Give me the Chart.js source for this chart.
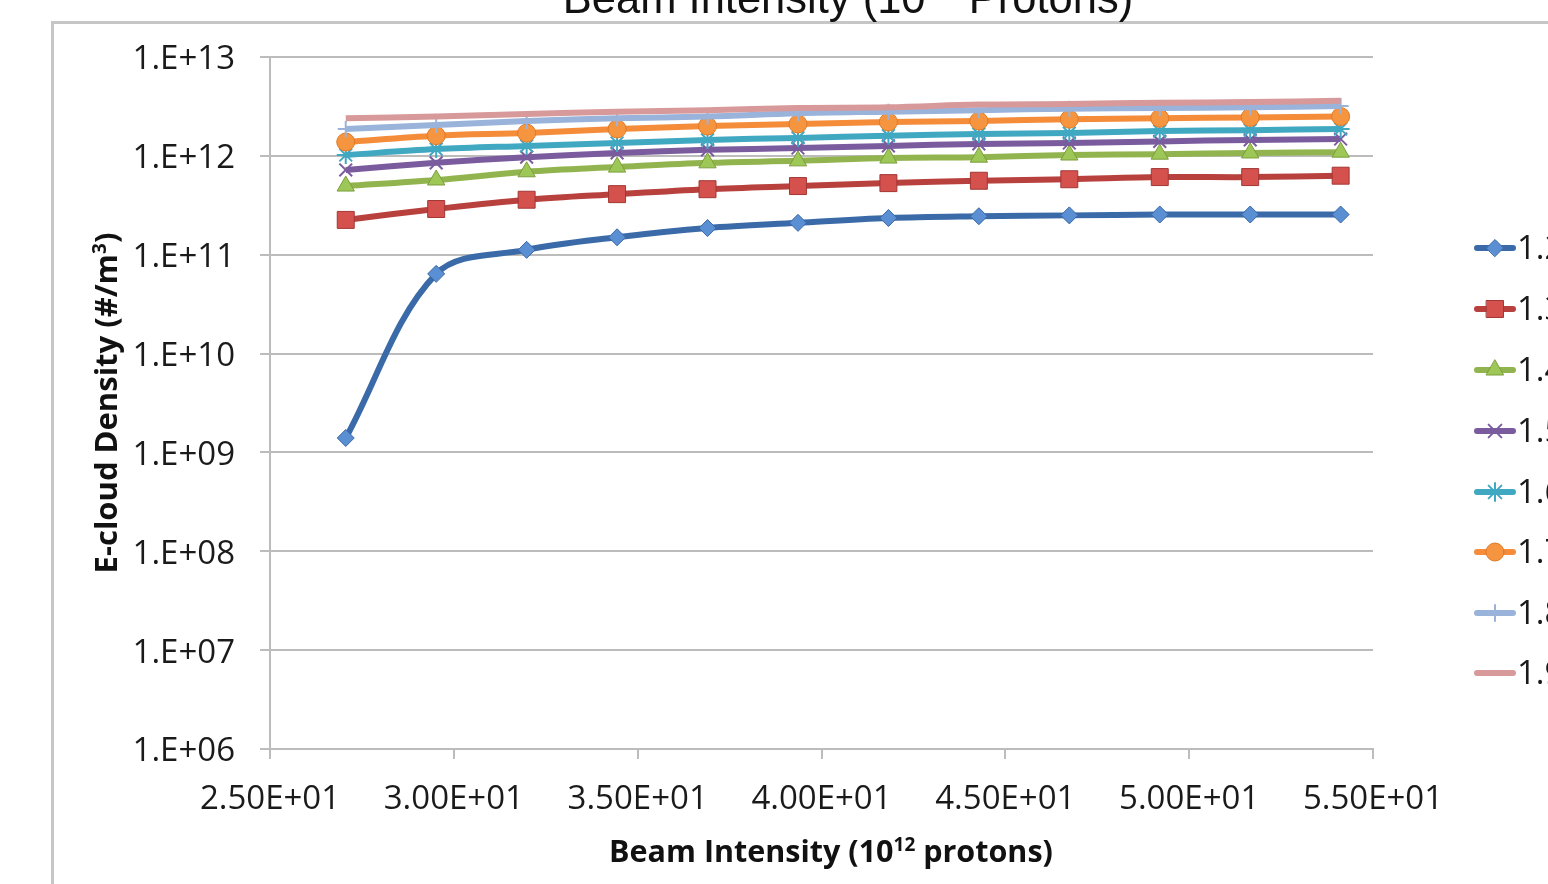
<!DOCTYPE html>
<html>
<head>
<meta charset="utf-8">
<script src="https://cdn.jsdelivr.net/npm/chart.js@4.4.1/dist/chart.umd.min.js"></script>
<style>
  html, body { margin: 0; padding: 0; background: #fff; overflow: hidden; }
  canvas { display: block; }
</style>
</head>
<body>
<canvas id="chart" width="1548" height="884"></canvas>
<script>
// beam intensity (10^12 protons) at each simulated point
const xValues = [27.06, 29.52, 31.98, 34.44, 36.9, 39.36, 41.82, 44.28, 46.74, 49.2, 51.66, 54.12];

// legend labels (SEY)
const seriesLabels = ['1.2', '1.3', '1.4', '1.5', '1.6', '1.7', '1.8', '1.9'];

// e-cloud density, one list per series
const sey12 = [1.4e9, 6.4e10, 1.12e11, 1.5e11, 1.86e11, 2.1e11, 2.35e11, 2.45e11, 2.5e11, 2.55e11, 2.55e11, 2.55e11];
const sey13 = [2.25e11, 2.9e11, 3.6e11, 4.1e11, 4.6e11, 4.95e11, 5.3e11, 5.6e11, 5.8e11, 6.1e11, 6.1e11, 6.3e11];
const sey14 = [4.95e11, 5.7e11, 6.9e11, 7.7e11, 8.5e11, 8.9e11, 9.5e11, 9.7e11, 1.02e12, 1.04e12, 1.07e12, 1.09e12];
const sey15 = [7.2e11, 8.5e11, 9.7e11, 1.07e12, 1.15e12, 1.2e12, 1.26e12, 1.32e12, 1.35e12, 1.4e12, 1.45e12, 1.48e12];
const sey16 = [1.02e12, 1.17e12, 1.26e12, 1.35e12, 1.45e12, 1.52e12, 1.6e12, 1.66e12, 1.7e12, 1.78e12, 1.82e12, 1.87e12];
const sey17 = [1.38e12, 1.6e12, 1.7e12, 1.87e12, 2.0e12, 2.1e12, 2.2e12, 2.25e12, 2.35e12, 2.4e12, 2.45e12, 2.5e12];
const sey18 = [1.87e12, 2.05e12, 2.25e12, 2.4e12, 2.5e12, 2.7e12, 2.8e12, 2.9e12, 3.0e12, 3.05e12, 3.1e12, 3.2e12];
const sey19 = [2.4e12, 2.5e12, 2.65e12, 2.8e12, 2.9e12, 3.05e12, 3.1e12, 3.3e12, 3.35e12, 3.45e12, 3.5e12, 3.6e12];

const yTickValues = [1e6, 1e7, 1e8, 1e9, 1e10, 1e11, 1e12, 1e13];
const yTickLabels = ['1.E+06', '1.E+07', '1.E+08', '1.E+09', '1.E+10', '1.E+11', '1.E+12', '1.E+13'];
const xTickValues = [25, 30, 35, 40, 45, 50, 55];
const xTickLabels = ['2.50E+01', '3.00E+01', '3.50E+01', '4.00E+01', '4.50E+01', '5.00E+01', '5.50E+01'];

const allSeries = [sey12, sey13, sey14, sey15, sey16, sey17, sey18, sey19];

// look of each series (Excel 2008 style)
const styles = [
  { line: '#3b6aa8', fill: '#5b8fd3', border: '#3a69a6', point: 'rectRot', r: 8.5, bw: 1 },
  { line: '#b8403d', fill: '#d4514e', border: '#a23734', point: 'rect', r: 12, bw: 1 },
  { line: '#92b44f', fill: '#9dc857', border: '#7c9d3c', point: 'triangle', r: 10, bw: 1 },
  { line: '#7a5c9e', fill: 'rgba(0,0,0,0)', border: '#7a5c9e', point: 'crossRot', r: 9, bw: 2 },
  { line: '#41a8c2', fill: 'rgba(0,0,0,0)', border: '#41a8c2', point: 'star', r: 9, bw: 2 },
  { line: '#f48c3a', fill: '#f6953f', border: '#e07a25', point: 'circle', r: 9, bw: 1 },
  { line: '#9ab3da', fill: 'rgba(0,0,0,0)', border: '#9ab3da', point: 'cross', r: 8, bw: 2 },
  { line: '#d8999a', fill: '#d8999a', border: '#d8999a', point: 'circle', r: 0, bw: 0 }
];

const datasets = allSeries.map((vals, i) => ({
  label: seriesLabels[i],
  data: vals.map((v, j) => ({ x: xValues[j], y: v })),
  borderColor: styles[i].line,
  borderWidth: 6,
  backgroundColor: styles[i].fill,
  pointStyle: styles[i].point,
  pointRadius: styles[i].r,
  pointHoverRadius: styles[i].r,
  pointBackgroundColor: styles[i].fill,
  pointBorderColor: styles[i].border,
  pointBorderWidth: styles[i].bw,
  tension: 0.35,
  fill: false,
  order: 8 - i
}));

// draw text made of pieces (for superscripts)
function drawRich(ctx, parts, x, y, align) {
  let total = 0;
  parts.forEach(p => { ctx.font = p.font; p.w = ctx.measureText(p.text).width; total += p.w; });
  let cx = align === 'center' ? x - total / 2 : x;
  ctx.textAlign = 'left';
  ctx.textBaseline = 'alphabetic';
  parts.forEach(p => {
    ctx.font = p.font;
    ctx.fillText(p.text, cx, y + (p.dy || 0));
    cx += p.w;
  });
}

const decorPlugin = {
  id: 'decor',
  beforeDraw(chart) {
    const ctx = chart.ctx;
    ctx.save();
    ctx.fillStyle = '#fff';
    ctx.fillRect(0, 0, chart.width, chart.height);
    // chart frame
    ctx.strokeStyle = '#c6c6c6';
    ctx.lineWidth = 3;
    ctx.strokeRect(52.5, 22.5, 2000, 2000);
    // main title, mostly outside the picture
    ctx.fillStyle = '#111';
    drawRich(ctx, [
      { text: 'Beam Intensity (10', font: '43.5px "Liberation Sans"' },
      { text: '12', font: '28px "Liberation Sans"', dy: -16 },
      { text: ' Protons)', font: '43.5px "Liberation Sans"' }
    ], 848, 13, 'center');
    ctx.restore();
  },
  afterDraw(chart) {
    const ctx = chart.ctx;
    ctx.save();
    ctx.fillStyle = '#111';
    // x axis title
    drawRich(ctx, [
      { text: 'Beam Intensity (10', font: 'bold 30.5px "Open Sans"' },
      { text: '12', font: 'bold 19px "Open Sans"', dy: -11 },
      { text: ' protons)', font: 'bold 30.5px "Open Sans"' }
    ], 831, 862, 'center');
    // y axis title
    ctx.translate(117, 403);
    ctx.rotate(-Math.PI / 2);
    drawRich(ctx, [
      { text: 'E-cloud Density (#/m', font: 'bold 31px "Open Sans"' },
      { text: '3', font: 'bold 19px "Open Sans"', dy: -11 },
      { text: ')', font: 'bold 31px "Open Sans"' }
    ], 0, 0, 'center');
    ctx.restore();

    // legend
    ctx.save();
    const legendY = [248, 309, 370, 431, 492, 552, 613, 673];
    chart.data.datasets.forEach((ds, i) => {
      const y = legendY[i];
      ctx.strokeStyle = ds.borderColor;
      ctx.lineWidth = 6;
      ctx.lineCap = 'round';
      ctx.beginPath();
      ctx.moveTo(1477, y);
      ctx.lineTo(1513, y);
      ctx.stroke();
      if (ds.pointRadius > 0 && Chart.helpers && Chart.helpers.drawPoint) {
        ctx.fillStyle = ds.pointBackgroundColor;
        ctx.strokeStyle = ds.pointBorderColor;
        ctx.lineWidth = ds.pointBorderWidth;
        Chart.helpers.drawPoint(ctx, {
          pointStyle: ds.pointStyle,
          radius: ds.pointRadius,
          rotation: 0,
          borderWidth: ds.pointBorderWidth
        }, 1495, y);
      }
      ctx.fillStyle = '#1a1a1a';
      ctx.font = '33px "Open Sans"';
      ctx.textAlign = 'left';
      ctx.textBaseline = 'middle';
      ctx.fillText(ds.label, 1517, y + 2);
    });
    ctx.restore();
  }
};

new Chart(document.getElementById('chart'), {
  type: 'line',
  data: { datasets },
  plugins: [decorPlugin],
  options: {
    responsive: false,
    animation: false,
    events: [],
    layout: { padding: { top: 57, right: 175, left: 0, bottom: 0 } },
    plugins: {
      legend: { display: false },
      title: { display: false },
      tooltip: { enabled: false }
    },
    scales: {
      x: {
        type: 'linear',
        min: 25,
        max: 55,
        afterFit(scale) { scale.height = 135; },
        afterBuildTicks(scale) { scale.ticks = xTickValues.map(v => ({ value: v })); },
        ticks: {
          color: '#1a1a1a',
          font: { family: 'Open Sans', size: 33 },
          padding: 21,
          maxRotation: 0,
          callback: (v, i) => xTickLabels[i]
        },
        grid: { drawOnChartArea: false, drawTicks: true, tickLength: 10, color: '#bcbcbc', lineWidth: 2 },
        border: { color: '#bcbcbc', width: 2 }
      },
      y: {
        type: 'logarithmic',
        min: 1e6,
        max: 1e13,
        afterFit(scale) { scale.width = 270; },
        afterBuildTicks(scale) { scale.ticks = yTickValues.map(v => ({ value: v })); },
        ticks: {
          color: '#1a1a1a',
          font: { family: 'Open Sans', size: 33 },
          padding: 25,
          labelOffset: 3,
          callback: (v, i) => yTickLabels[i]
        },
        grid: { color: '#bcbcbc', lineWidth: 2, tickLength: 10 },
        border: { color: '#bcbcbc', width: 2 }
      }
    }
  }
});
</script>
</body>
</html>
